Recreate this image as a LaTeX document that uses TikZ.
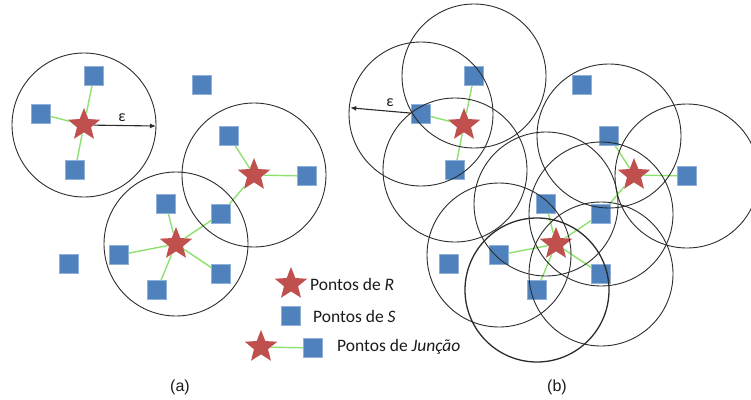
\documentclass[tikz,border=0pt]{standalone}
\usepackage{fontspec}
\setmainfont{Carlito}
\newfontfamily\captionfont{Liberation Sans}
\usetikzlibrary{shapes.geometric,arrows.meta,calc}
\definecolor{starred}{HTML}{C0504D}
\definecolor{sqblue}{HTML}{4F81BD}
\definecolor{sqedge}{HTML}{8FB0D8}
\definecolor{joingreen}{HTML}{8EE070}
\definecolor{ringgray}{HTML}{2B2B2B}
\definecolor{txt}{HTML}{1A1A1A}
\tikzset{
  rpt/.style={star, star points=5, star point ratio=2.3, minimum size=34pt,
    inner sep=0pt, fill=starred, draw=none},
  spt/.style={rectangle, minimum size=19pt, inner sep=0pt, fill=sqblue,
    draw=sqedge, line width=0.6pt},
  joinline/.style={draw=joingreen, line width=1.4pt},
  ring/.style={draw=ringgray, line width=0.9pt},
  boldring/.style={draw=ringgray, line width=1.3pt},
  radius arrow/.style={draw=ringgray, line width=1.1pt, -{Latex[length=6pt,width=5pt]}},
  eps/.style={font=\fontsize{16}{16}\selectfont, text=txt, inner sep=1pt},
  legend/.style={font=\fontsize{17.5}{20}\selectfont, text=txt, anchor=west, inner sep=0pt},
  caption/.style={font=\captionfont\fontsize{16}{18}\selectfont, text=txt}
}
\begin{document}
\begin{tikzpicture}[x=1pt,y=-1pt]
\useasboundingbox (0,0) rectangle (751,399);
\begin{scope}
\clip (0,0) rectangle (751,399);

% ---------- panel (a): epsilon balls around the points of R ----------
\node[spt] (a11) at (94,76) {};
\node[spt] (a12) at (41,114) {};
\node[spt] (a13) at (75,170) {};
\node[spt] (a21) at (229,136) {};
\node[spt] (a22) at (307,176) {};
\node[spt] (a23) at (221,214) {};
\node[spt] (a31) at (166,204) {};
\node[spt] (a32) at (119,255) {};
\node[spt] (a33) at (221,274) {};
\node[spt] (a34) at (157,290) {};
\node[spt] (ai1) at (202,85) {};
\node[spt] (ai2) at (69,264) {};

\node[rpt] (ar1) at (84,125) {};
\node[rpt] (ar2) at (254,175) {};
\node[rpt] (ar3) at (176,244) {};

\foreach \s in {a11,a12,a13} \draw[joinline] (ar1) -- (\s);
\foreach \s in {a21,a22,a23} \draw[joinline] (ar2) -- (\s);
\foreach \s in {a31,a32,a33,a34,a23} \draw[joinline] (ar3) -- (\s);

\draw[ring] (ar1.center) circle[radius=72];
\draw[ring] (ar2.center) circle[radius=72];
\draw[ring] (ar3.center) circle[radius=72];

\coordinate (aeps) at (156,126);
\draw[radius arrow] (ar1) -- (aeps);
\node[eps] (aepslabel) at (122,118) {ε};

% ---------- panel (b): epsilon balls around the points of S ----------
\node[spt] (b11) at (474,76) {};
\node[spt] (b12) at (421,114) {};
\node[spt] (b13) at (455,170) {};
\node[spt] (b21) at (609,136) {};
\node[spt] (b22) at (687,176) {};
\node[spt] (b23) at (601,214) {};
\node[spt] (b31) at (546,204) {};
\node[spt] (b32) at (499,255) {};
\node[spt] (b33) at (601,274) {};
\node[spt] (b34) at (537,290) {};
\node[spt] (bi1) at (582,85) {};
\node[spt] (bi2) at (449,264) {};

\node[rpt] (br1) at (464,125) {};
\node[rpt] (br2) at (634,175) {};
\node[rpt] (br3) at (556,244) {};

\foreach \s in {b11,b12,b13} \draw[joinline] (br1) -- (\s);
\foreach \s in {b21,b22,b23} \draw[joinline] (br2) -- (\s);
\foreach \s in {b31,b32,b33,b34,b23} \draw[joinline] (br3) -- (\s);

\foreach \s in {b11,b12,b13,b21,b22,b23,b31,b32,b33}
  \draw[ring] (\s.center) circle[radius=72];
\draw[boldring] (b34.center) circle[radius=72];

\coordinate (beps) at ($(b12.center)+(185:71)$);
\draw[radius arrow] (b12) -- (beps);
\node[eps] (bepslabel) at (390,103) {ε};
\end{scope}

% ---------- legend ----------
\node[rpt] (lr) at (291,284) {};
\node[legend] (lrt) at (310,284) {Pontos de \textit{R}};
\node[spt] (ls) at (291,316) {};
\node[legend] (lst) at (313,316) {Pontos de \textit{S}};
\node[rpt] (ljr) at (261,347) {};
\node[spt] (ljs) at (313,348) {};
\draw[joinline] (ljr) -- (ljs);
\node[legend] (ljt) at (337,347) {Pontos de \textit{Junção}};

% ---------- captions ----------
\node[caption] (capa) at (180,387) {(a)};
\node[caption] (capb) at (557,387) {(b)};
\end{tikzpicture}
\end{document}
